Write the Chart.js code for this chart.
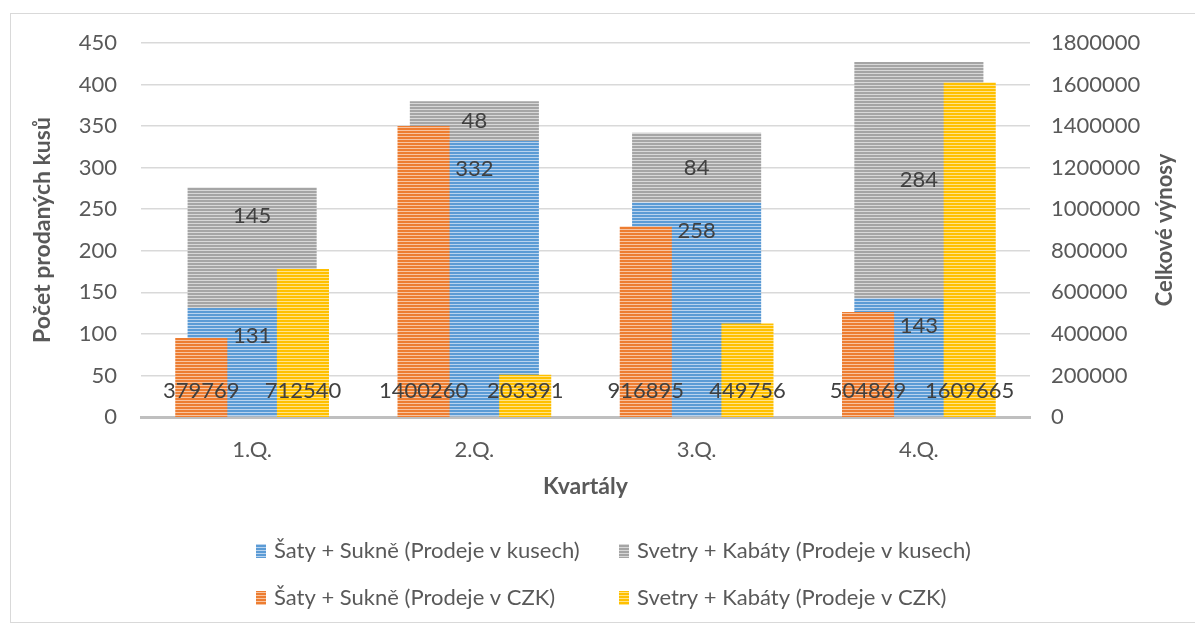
<!DOCTYPE html>
<html>
<head>
<meta charset="utf-8">
<script src="https://cdn.jsdelivr.net/npm/chart.js@4"></script>
<style>
    body { margin: 0; background: #fff; }
    #box { position: absolute; left: 10px; top: 13px; width: 1190px; height: 608px; border: 1px solid #d9d9d9; }
    canvas { display: block; }
</style>
</head>
<body>
<div id="box"><canvas id="canvas-chart" width="1190" height="608"></canvas></div>
<script>
'use strict'

let categories = ["1.Q.", "2.Q.", "3.Q.", "4.Q."];
let satyKusy = [131, 332, 258, 143];
let svetryKusy = [145, 48, 84, 284];
let satyCzk = [379769, 1400260, 916895, 504869];
let svetryCzk = [712540, 203391, 449756, 1609665];
let leftMax = 450;
let leftStep = 50;
let rightMax = 1800000;
let rightStep = 200000;

let fontName = "Lato";
let textColor = "#595959";

let chart = document.getElementById("canvas-chart").getContext("2d");

function stripes(color, light) {
    let c = document.createElement("canvas");
    c.width = 4;
    c.height = 3;
    let g = c.getContext("2d");
    g.fillStyle = color;
    g.fillRect(0, 0, 4, 3);
    g.fillStyle = light;
    g.fillRect(0, 2, 4, 1);
    return chart.createPattern(c, "repeat");
}

let blue = stripes("#5b9bd5", "#b9d3ee");
let gray = stripes("#a5a5a5", "#d8d8d8");
let orange = stripes("#ed7d31", "#f8c4a0");
let yellow = stripes("#ffc000", "#ffe38a");

let lateIndex = 3; // yellow bars go on top of the stacked ones
let drawingLate = false;

// data labels like Excel: inside end / center / inside base
let labelPlugin = {
    id: "labels",
    beforeDatasetDraw(c, args) {
        if (args.index === lateIndex && !drawingLate) {
            return false;
        }
    },
    afterDatasetsDraw(c) {
        drawingLate = true;
        c.getDatasetMeta(lateIndex).controller.draw();
        drawingLate = false;

        let ctx = c.ctx;
        ctx.save();
        ctx.font = "22px " + fontName;
        ctx.fillStyle = "#404040";
        ctx.textAlign = "center";
        ctx.textBaseline = "middle";
        c.data.datasets.forEach(function (ds, i) {
            let meta = c.getDatasetMeta(i);
            meta.data.forEach(function (bar, j) {
                let y;
                if (ds.anchor[j] === "end") {
                    y = bar.y + 28;
                } else if (ds.anchor[j] === "center") {
                    y = (bar.y + bar.base) / 2;
                } else {
                    y = bar.base - 26;
                }
                ctx.fillText(String(ds.data[j]), bar.x, y);
            });
        });
        ctx.restore();
    },
    afterDraw(c) {
        let ctx = c.ctx;
        ctx.save();
        // right axis title, reads bottom to top
        ctx.font = "bold 22px " + fontName;
        ctx.fillStyle = textColor;
        ctx.textAlign = "center";
        ctx.textBaseline = "middle";
        ctx.translate(1154, (c.chartArea.top + c.chartArea.bottom) / 2);
        ctx.rotate(-Math.PI / 2);
        ctx.fillText("Celkové výnosy", 0, 0);
        ctx.restore();

        // legend in two columns
        ctx.save();
        ctx.font = "22px " + fontName;
        ctx.textAlign = "left";
        ctx.textBaseline = "middle";
        let cols = [245, 608];
        let rows = [537, 584];
        c.data.datasets.forEach(function (ds, i) {
            let x = cols[i % 2];
            let y = rows[Math.floor(i / 2)];
            ctx.fillStyle = ds.backgroundColor;
            ctx.fillRect(x, y - 7, 10, 14);
            ctx.fillStyle = textColor;
            ctx.fillText(ds.label, x + 18, y);
        });
        ctx.restore();
    },
};

let chartData = {
    labels: categories,
    datasets: [
        {
            label: "Šaty + Sukně (Prodeje v kusech)",
            data: satyKusy,
            backgroundColor: blue,
            yAxisID: "y",
            stack: "kusy",
            order: 1,
            barPercentage: 2.54,
            categoryPercentage: 0.686,
            anchor: ["end", "end", "end", "end"],
        },
        {
            label: "Svetry + Kabáty (Prodeje v kusech)",
            data: svetryKusy,
            backgroundColor: gray,
            yAxisID: "y",
            stack: "kusy",
            order: 1,
            barPercentage: 2.54,
            categoryPercentage: 0.686,
            anchor: ["end", "center", "center", "center"],
        },
        {
            label: "Šaty + Sukně (Prodeje v CZK)",
            data: satyCzk,
            backgroundColor: orange,
            yAxisID: "y1",
            stack: "czk1",
            order: 0,
            barPercentage: 1.025,
            categoryPercentage: 0.686,
            anchor: ["base", "base", "base", "base"],
        },
        {
            label: "Svetry + Kabáty (Prodeje v CZK)",
            data: svetryCzk,
            backgroundColor: yellow,
            yAxisID: "y1",
            stack: "czk2",
            order: 2,
            barPercentage: 1.025,
            categoryPercentage: 0.686,
            anchor: ["base", "base", "base", "base"],
        },
    ],
};

let tickFont = { family: fontName, size: 22 };
let titleFont = { family: fontName, size: 23, weight: "bold" };

let chart1 = new Chart(chart, {
    type: "bar",
    data: chartData,
    options: {
        responsive: false,
        animation: false,
        devicePixelRatio: 1,
        layout: { padding: { left: 0, right: 0, top: 29, bottom: 122 } },
        plugins: {
            legend: { display: false },
            tooltip: { enabled: false },
        },
        scales: {
            x: {
                stacked: true,
                offset: true,
                grid: { display: false, drawTicks: false },
                border: { color: "#bfbfbf", width: 3 },
                ticks: { font: tickFont, color: textColor, padding: 20 },
                title: { display: true, text: "Kvartály", font: titleFont, color: textColor, padding: 0 },
                afterFit(s) { s.height = 83; },
            },
            y: {
                stacked: true,
                min: 0,
                max: leftMax,
                ticks: { stepSize: leftStep, font: tickFont, color: textColor, padding: 24 },
                grid: { color: "#d9d9d9", lineWidth: 1.5, drawTicks: false },
                border: { display: false },
                title: { display: true, text: "Počet prodaných kusů", font: titleFont, color: textColor, padding: { top: 18, bottom: 0 } },
                afterFit(s) {
                    s.width = 130;
                    s.paddingTop = 0;
                    s.paddingBottom = 0;
                },
            },
            y1: {
                position: "right",
                stacked: false,
                min: 0,
                max: rightMax,
                ticks: {
                    stepSize: rightStep,
                    font: tickFont,
                    color: textColor,
                    padding: 21,
                    callback: function (v) { return String(v); },
                },
                grid: { display: false, drawTicks: false },
                border: { display: false },
                afterFit(s) {
                    s.width = 171;
                    s.paddingTop = 0;
                    s.paddingBottom = 0;
                },
            },
        },
    },
    plugins: [labelPlugin],
});
</script>
</body>
</html>
